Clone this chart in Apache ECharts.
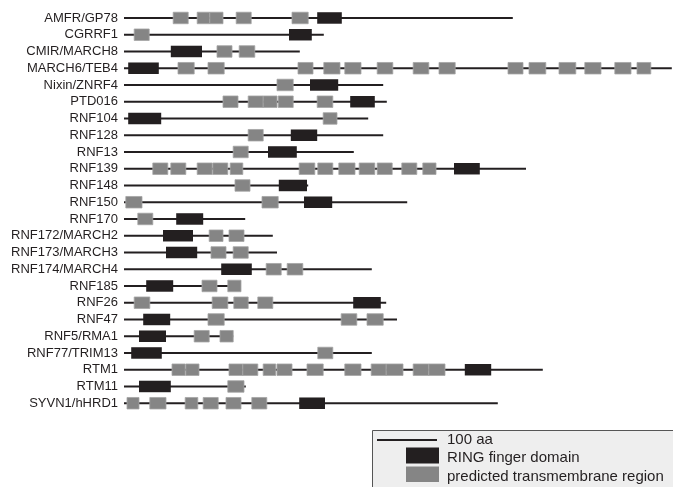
<!DOCTYPE html>
<html>
<head>
<meta charset="utf-8">
<script src="https://cdn.jsdelivr.net/npm/echarts@6/dist/echarts.min.js"></script>
<style>
html,body{margin:0;padding:0;background:#fff;}
#chart{width:673px;height:487px;}
</style>
</head>
<body>
<div id="chart"></div>
<script>
// Protein names (rows, top to bottom)
const proteins = ['AMFR/GP78','CGRRF1','CMIR/MARCH8','MARCH6/TEB4','Nixin/ZNRF4','PTD016','RNF104','RNF128','RNF13','RNF139','RNF148','RNF150','RNF170','RNF172/MARCH2','RNF173/MARCH3','RNF174/MARCH4','RNF185','RNF26','RNF47','RNF5/RMA1','RNF77/TRIM13','RTM1','RTM11','SYVN1/hHRD1'];
// Protein lengths (aa)
const lengths = [648,333,293,913,432,438,407,432,383,670,307,472,202,248,255,413,195,437,455,182,413,698,203,623];
// RING finger domain [start, end] (aa)
const ringDomains = [[322,363],[275,313],[78,130],[7,58],[310,357],[377,418],[7,62],[278,322],[240,288],[550,593],[258,305],[300,347],[87,132],[65,115],[70,122],[162,213],[37,82],[382,428],[32,77],[25,70],[12,63],[568,612],[25,78],[292,335]];
// Predicted transmembrane regions [start, end] (aa)
const tmRegions = [
  [[82,107],[122,143],[143,165],[187,212],[280,307]],
  [[17,42]],
  [[155,180],[192,218]],
  [[90,117],[140,167],[290,315],[333,360],[368,395],[422,448],[482,508],[525,552],[640,665],[675,703],[725,753],[768,795],[818,845],[855,878]],
  [[255,282]],
  [[165,190],[207,232],[232,255],[257,282],[322,348]],
  [[332,355]],
  [[207,232]],
  [[182,207]],
  [[48,73],[78,103],[122,147],[148,173],[177,198],[292,318],[323,348],[358,385],[392,418],[422,447],[463,488],[498,520]],
  [[185,210]],
  [[3,30],[230,257]],
  [[23,48]],
  [[142,165],[175,200]],
  [[145,170],[182,207]],
  [[237,262],[272,298]],
  [[130,155],[173,195]],
  [[17,43],[147,173],[183,207],[223,248]],
  [[140,167],[362,388],[405,432]],
  [[117,142],[160,182]],
  [[323,348]],
  [[80,102],[103,125],[175,198],[198,223],[232,253],[255,280],[305,332],[368,395],[412,437],[437,465],[482,508],[508,535]],
  [[173,200]],
  [[5,25],[43,70],[102,123],[132,157],[170,195],[213,238]]
];
// Scale bar length (aa)
const scaleBar = [100];
const legendLabels = ['100 aa','RING finger domain','predicted transmembrane region'];

const BLACK = '#231f20';
const GRAY = '#858585';

const lineData = lengths.map((len, i) => [i, len]);
const ringData = ringDomains.map((d, i) => [d[0], d[1], i]);
const tmData = [];
tmRegions.forEach((list, i) => list.forEach(d => tmData.push([d[0], d[1], i])));

function boxRenderer(fill, stroke) {
  return function (params, api) {
    const y = api.value(2);
    const p0 = api.coord([api.value(0), y]);
    const p1 = api.coord([api.value(1), y]);
    const h = 11.5;
    return {
      type: 'rect',
      shape: { x: p0[0], y: p0[1] - h / 2, width: p1[0] - p0[0], height: h },
      style: { fill: fill, stroke: stroke, lineWidth: stroke ? 0.8 : 0 }
    };
  };
}

const chart = echarts.init(document.getElementById('chart'), null, { renderer: 'canvas' });
chart.setOption({
  animation: false,
  backgroundColor: '#ffffff',
  grid: { left: 124, right: 0, top: 9.6, height: 402, outerBoundsMode: 'none' },
  xAxis: { type: 'value', min: 0, max: 915, show: false },
  yAxis: {
    type: 'category', data: proteins, inverse: true,
    axisLine: { show: false }, axisTick: { show: false }, splitLine: { show: false },
    axisLabel: { interval: 0, hideOverlap: false, color: BLACK, fontSize: 13, fontFamily: 'Liberation Sans, Arial, sans-serif', margin: 6 }
  },
  graphic: [
    { type: 'rect', z: 0, shape: { x: 372.5, y: 430.5, width: 400, height: 100 },
      style: { fill: '#eeeeee', stroke: '#555555', lineWidth: 1 } },
    { type: 'rect', z: 1, shape: { x: 406, y: 447.5, width: 33, height: 16 }, style: { fill: BLACK } },
    { type: 'rect', z: 1, shape: { x: 406, y: 466.5, width: 33, height: 15.5 }, style: { fill: GRAY } },
    { type: 'text', z: 1, x: 447, y: 439.5, style: { text: legendLabels[0], fill: BLACK, font: '15px Liberation Sans, Arial, sans-serif', verticalAlign: 'middle' } },
    { type: 'text', z: 1, x: 447, y: 457.5, style: { text: legendLabels[1], fill: BLACK, font: '15px Liberation Sans, Arial, sans-serif', verticalAlign: 'middle' } },
    { type: 'text', z: 1, x: 447, y: 477, style: { text: legendLabels[2], fill: BLACK, font: '15px Liberation Sans, Arial, sans-serif', verticalAlign: 'middle' } }
  ],
  series: [
    {
      type: 'custom', name: 'backbone', z: 2, clip: false,
      data: lineData,
      encode: { x: 1, y: 0 },
      renderItem: function (params, api) {
        const y = api.value(0);
        const p0 = api.coord([0, y]);
        const p1 = api.coord([api.value(1), y]);
        return { type: 'line', shape: { x1: p0[0], y1: p0[1], x2: p1[0], y2: p1[1] }, style: { stroke: BLACK, lineWidth: 2 } };
      }
    },
    {
      type: 'custom', name: 'predicted transmembrane region', z: 3, clip: false,
      data: tmData, encode: { x: [0, 1], y: 2 },
      renderItem: boxRenderer(GRAY, '#a5a5a5')
    },
    {
      type: 'custom', name: 'RING finger domain', z: 4, clip: false,
      data: ringData, encode: { x: [0, 1], y: 2 },
      renderItem: boxRenderer(BLACK, null)
    },
    {
      type: 'custom', name: 'scale', z: 5, clip: false,
      data: scaleBar,
      renderItem: function (params, api) {
        const w = api.size([api.value(0), 0])[0];
        return { type: 'line', shape: { x1: 377, y1: 440, x2: 377 + w, y2: 440 }, style: { stroke: BLACK, lineWidth: 2 } };
      }
    }
  ]
});
</script>
</body>
</html>
